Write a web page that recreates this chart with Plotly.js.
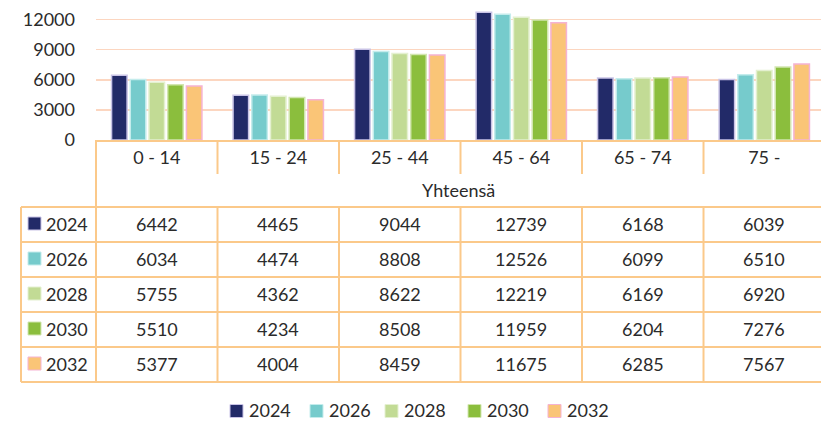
<!DOCTYPE html>
<html>
<head>
<meta charset="utf-8">
<script src="https://cdn.plot.ly/plotly-3.0.1.min.js"></script>
<style>html,body{margin:0;padding:0;background:#fff;}#chart{width:821px;height:422px;}</style>
</head>
<body>
<div id="chart"></div>
<script>
const categories = ['0 - 14', '15 - 24', '25 - 44', '45 - 64', '65 - 74', '75 -'];
const years = ['2024', '2026', '2028', '2030', '2032'];
const v2024 = [6442, 4465, 9044, 12739, 6168, 6039];
const v2026 = [6034, 4474, 8808, 12526, 6099, 6510];
const v2028 = [5755, 4362, 8622, 12219, 6169, 6920];
const v2030 = [5510, 4234, 8508, 11959, 6204, 7276];
const v2032 = [5377, 4004, 8459, 11675, 6285, 7567];
const groupLabel = 'Yhteensä';
const yTicks = [0, 3000, 6000, 9000, 12000];

const series = [v2024, v2026, v2028, v2030, v2032];
const fills = ['#222A68', '#76CBCC', '#C2DB95', '#8BBE3D', '#FAC577'];
const edges = ['#C9C3E6', '#C4ECEC', '#E4F0D0', '#D2E6B0', '#F5B3D3'];
const tableLine = '#FBC98A';
const font = 'Lato, "Open Sans", sans-serif';
const txt = '#2b2b2b';
// left pixel of each legend swatch (layout only)
const legendSwatchX = [230, 310, 385, 468, 548];

// pixel geometry helpers
const L = 96, W = 725, T = 5, B = 140, H = B - T;
const py = Y => (B - Y) / H;
const px = X => (X - L) / W;

const traces = years.map((yr, i) => ({
  type: 'bar', name: yr, x: categories, y: series[i],
  marker: {color: fills[i], line: {color: edges[i], width: 1.5}},
  hoverinfo: 'skip', showlegend: false
}));

const shapes = [];
const annotations = [];
const tfont = {family: font, size: 18, color: txt};
const line = (xref, x0, x1, y0, y1) => shapes.push({
  type: 'line', xref: xref, yref: 'paper', x0: x0, x1: x1, y0: py(y0), y1: py(y1),
  line: {color: tableLine, width: 2}, layer: 'above'
});
const rowTop = 207, rowH = 35;
const tableBottom = rowTop + rowH * years.length;
line('paper', 0, 0, B, tableBottom);
line('paper', px(21), px(21), rowTop, tableBottom);
for (let k = 1; k < categories.length; k++) {
  line('x', k - 0.5, k - 0.5, B, 174);
  line('x', k - 0.5, k - 0.5, rowTop, tableBottom);
}
for (let r = 0; r <= years.length; r++) {
  line('paper', px(21), 1, rowTop + r * rowH, rowTop + r * rowH);
}
annotations.push({xref: 'paper', yref: 'paper', x: 0.5, y: py(190), xanchor: 'center', yanchor: 'middle',
  text: groupLabel, showarrow: false, font: tfont});
years.forEach((yr, i) => {
  const yc = rowTop + rowH * i + rowH / 2;
  shapes.push({type: 'rect', xref: 'paper', yref: 'paper', x0: px(28), x1: px(41),
    y0: py(yc - 7.5), y1: py(yc + 5.5), fillcolor: fills[i], line: {color: edges[i], width: 1}});
  annotations.push({xref: 'paper', yref: 'paper', x: px(44), y: py(yc - 1), xanchor: 'left', yanchor: 'middle',
    text: yr, showarrow: false, font: tfont});
  series[i].forEach((v, j) => {
    annotations.push({xref: 'x', yref: 'paper', x: categories[j], y: py(yc - 1), xanchor: 'center',
      yanchor: 'middle', text: String(v), showarrow: false, font: tfont});
  });
  // bottom legend
  const lx = legendSwatchX[i];
  shapes.push({type: 'rect', xref: 'paper', yref: 'paper', x0: px(lx), x1: px(lx + 13),
    y0: py(404.5), y1: py(417.5), fillcolor: fills[i], line: {color: edges[i], width: 1}});
  annotations.push({xref: 'paper', yref: 'paper', x: px(lx + 17), y: py(410), xanchor: 'left', yanchor: 'middle',
    text: yr, showarrow: false, font: tfont});
});

const layout = {
  width: 821, height: 422,
  margin: {l: L, r: 0, t: T, b: 422 - B, pad: 0, autoexpand: false},
  paper_bgcolor: '#fff', plot_bgcolor: '#fff',
  barmode: 'group', bargap: 0.23, bargroupgap: 0.17,
  font: tfont,
  xaxis: {type: 'category', range: [-0.5, 5.467], showgrid: false, ticks: '',
    showline: true, linecolor: tableLine, linewidth: 2, tickfont: tfont,
    ticklabelstandoff: 0, fixedrange: true, automargin: false},
  yaxis: {range: [0, 13450], tickvals: yTicks, ticktext: yTicks.map(String),
    gridcolor: '#FCD6C0', gridwidth: 1.5, zeroline: false, showline: false,
    ticklabelstandoff: 20, tickfont: tfont, fixedrange: true, automargin: false},
  showlegend: false,
  shapes: shapes,
  annotations: annotations
};
Plotly.newPlot('chart', traces, layout, {staticPlot: true});
</script>
</body>
</html>
